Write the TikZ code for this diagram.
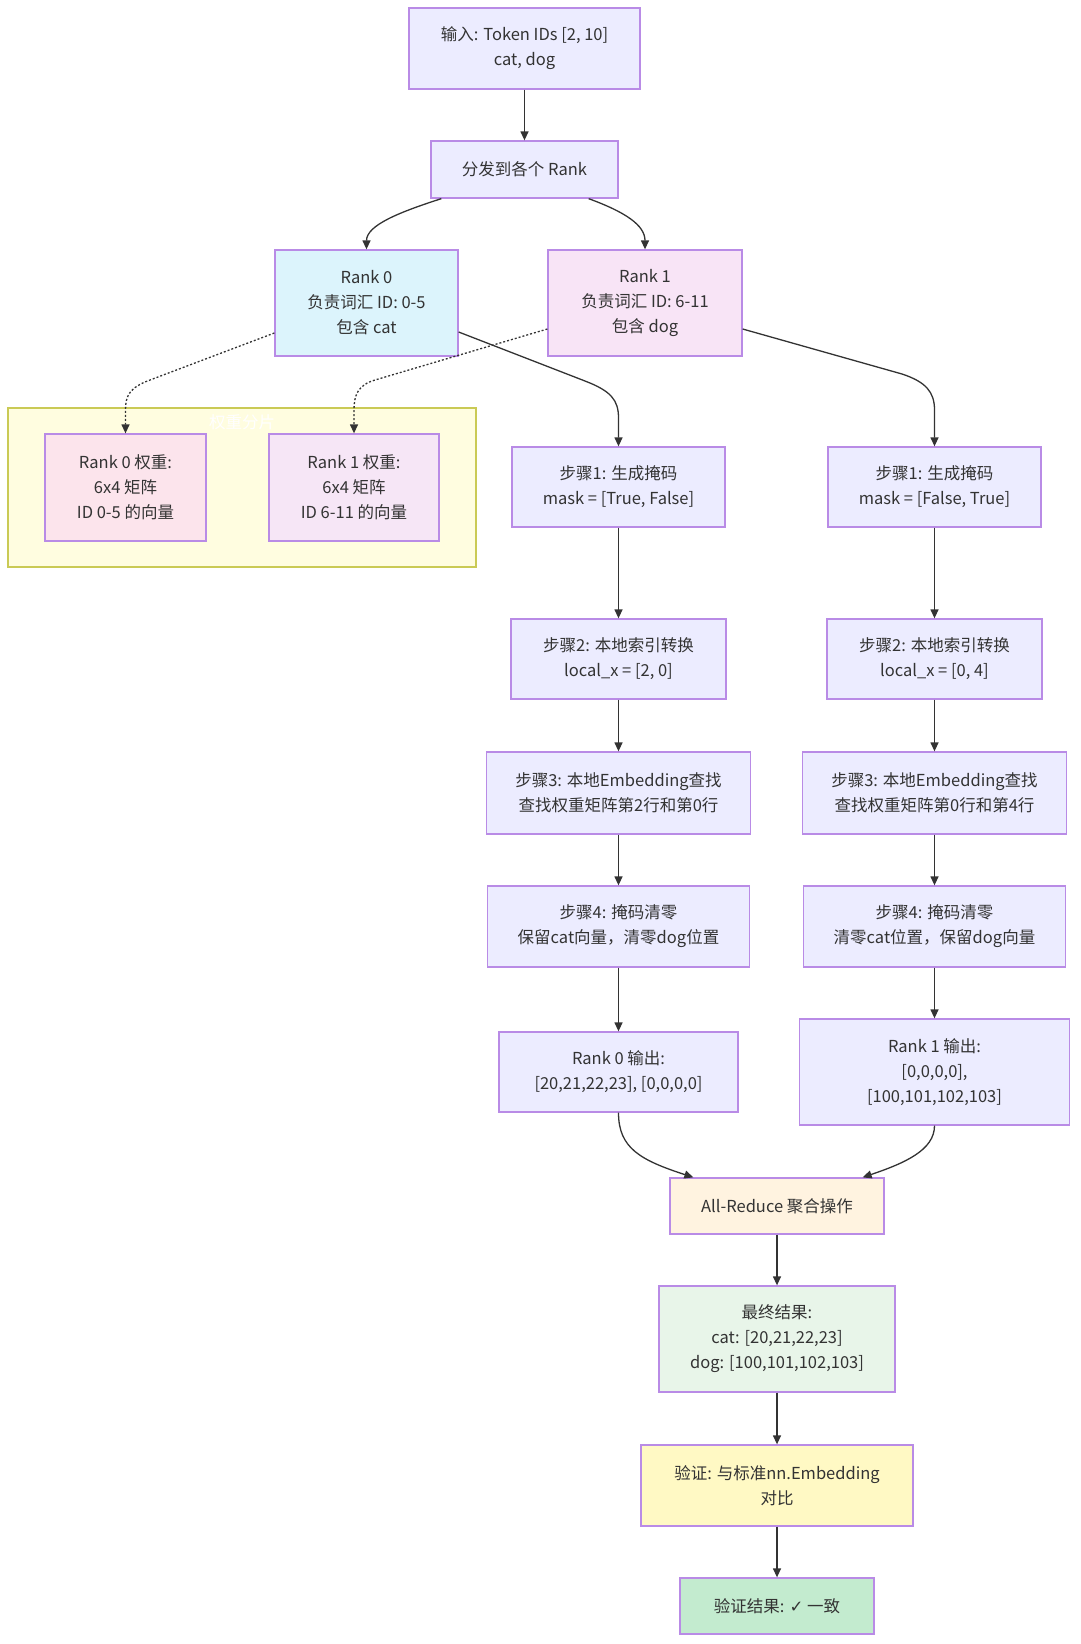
\documentclass[tikz,border=0pt]{standalone}
\usepackage{fontspec}
\setmainfont{Noto Sans CJK SC}
\newfontfamily\dejavu{DejaVu Sans}
\usetikzlibrary{arrows.meta,calc}
\definecolor{nodeline}{HTML}{B98BE6}
\definecolor{defbg}{HTML}{ECECFF}
\definecolor{textc}{HTML}{333333}
\definecolor{edgec}{HTML}{333333}
\definecolor{rzero}{HTML}{DCF4FC}
\definecolor{rone}{HTML}{F8E4F6}
\definecolor{wzero}{HTML}{FCE4EC}
\definecolor{wone}{HTML}{F6E6F6}
\definecolor{groupbg}{HTML}{FFFDE0}
\definecolor{groupline}{HTML}{CACA55}
\definecolor{arbg}{HTML}{FFF3E0}
\definecolor{finbg}{HTML}{E8F5E9}
\definecolor{verbg}{HTML}{FFF9C4}
\definecolor{resbg}{HTML}{C3EBCF}
\begin{document}
\begin{tikzpicture}[x=1pt,y=-1pt,
  box/.style={draw=nodeline, line width=1.3pt, fill=#1, align=center, inner sep=0pt,
    font=\fontsize{16.5}{25}\selectfont, text=textc},
  box/.default=defbg,
  edge/.style={draw=edgec, line width=1.3pt, -{Triangle[length=9pt,width=8pt]}},
  dotedge/.style={edge, dash pattern=on 2pt off 2pt}]
\useasboundingbox (0,0) rectangle (1080,1644);

% group
\node[draw=groupline, fill=groupbg, line width=1.3pt, minimum width=468pt, minimum height=159pt, inner sep=0pt] (grp) at (242,487.5) {};
\node[text=white, font=\fontsize{16.5}{25}\selectfont] (grplabel) at (242,422) {权重分片};

% nodes
\node[box, minimum width=231pt, minimum height=81pt] (in) at (524.5,48.5) {输入: Token IDs [2, 10]\\cat, dog};
\node[box, minimum width=187pt, minimum height=57pt] (dist) at (524.5,169.5) {分发到各个 Rank};
\node[box=rzero, minimum width=183pt, minimum height=106pt] (r0) at (366.5,303) {Rank 0\\负责词汇 ID: 0-5\\包含 cat};
\node[box=rone, minimum width=194pt, minimum height=106pt] (r1) at (645,303) {Rank 1\\负责词汇 ID: 6-11\\包含 dog};
\node[box=wzero, minimum width=161pt, minimum height=107pt] (w0) at (125.5,487.5) {Rank 0 权重:\\6x4 矩阵\\ID 0-5 的向量};
\node[box=wone, minimum width=170pt, minimum height=107pt] (w1) at (354,487.5) {Rank 1 权重:\\6x4 矩阵\\ID 6-11 的向量};

\node[box, minimum width=213pt, minimum height=80pt] (s1l) at (618.5,487) {步骤1: 生成掩码\\mask = [True, False]};
\node[box, minimum width=213pt, minimum height=80pt] (s1r) at (934.5,487) {步骤1: 生成掩码\\mask = [False, True]};
\node[box, minimum width=215pt, minimum height=80pt] (s2l) at (618.5,659) {步骤2: 本地索引转换\\local\_x = [2, 0]};
\node[box, minimum width=215pt, minimum height=80pt] (s2r) at (934.5,659) {步骤2: 本地索引转换\\local\_x = [0, 4]};
\node[box, minimum width=264pt, minimum height=82pt] (s3l) at (618.5,793) {步骤3: 本地Embedding查找\\查找权重矩阵第2行和第0行};
\node[box, minimum width=264pt, minimum height=82pt] (s3r) at (934.5,793) {步骤3: 本地Embedding查找\\查找权重矩阵第0行和第4行};
\node[box, minimum width=262pt, minimum height=81pt] (s4l) at (618.5,926.5) {步骤4: 掩码清零\\保留cat向量，清零dog位置};
\node[box, minimum width=262pt, minimum height=81pt] (s4r) at (934.5,926.5) {步骤4: 掩码清零\\清零cat位置，保留dog向量};
\node[box, minimum width=239pt, minimum height=80pt] (o0) at (618.5,1072) {Rank 0 输出:\\{[}20,21,22,23], [0,0,0,0]};
\node[box, minimum width=270pt, minimum height=106pt] (o1) at (934.5,1072) {Rank 1 输出:\\{[}0,0,0,0],\\{[}100,101,102,103]};

\node[box=arbg, minimum width=214pt, minimum height=56pt] (ar) at (777,1206) {All-Reduce 聚合操作};
\node[box=finbg, minimum width=236pt, minimum height=106pt] (fin) at (777,1339) {最终结果:\\cat: [20,21,22,23]\\dog: [100,101,102,103]};
\node[box=verbg, minimum width=272pt, minimum height=81pt] (ver) at (777,1485.5) {验证: 与标准nn.Embedding\\对比};
\node[box=resbg, minimum width=194pt, minimum height=56pt] (res) at (777,1606) {验证结果: {\dejavu ✓} 一致};

% edges
\draw[edge] (in) -- (dist);
\draw[edge] ($(dist.south west)+(11,0)$) .. controls (400,212) and (366.5,225) .. (r0.north);
\draw[edge] ($(dist.south east)+(-30,0)$) .. controls (625,212) and (645,225) .. (r1.north);

\draw[edge] ($(r0.east)+(0,29)$) -- (585,381) .. controls (611,391) and (618.5,400) .. (618.5,418) -- (s1l.north);
\draw[edge] ($(r1.east)+(0,26)$) -- (902,374) .. controls (926,382) and (934.5,392) .. (934.5,410) -- (s1r.north);
\draw[dotedge] ($(r0.west)+(0,30)$) -- (150,380) .. controls (130,387.5) and (125.5,395) .. (125.5,410) -- (w0.north);
\draw[dotedge] ($(r1.west)+(0,26)$) -- (375,380) .. controls (358,385) and (354,395) .. (354,410) -- (w1.north);

\draw[edge] (s1l) -- (s2l);
\draw[edge] (s2l) -- (s3l);
\draw[edge] (s3l) -- (s4l);
\draw[edge] (s4l) -- (o0);
\draw[edge] (s1r) -- (s2r);
\draw[edge] (s2r) -- (s3r);
\draw[edge] (s3r) -- (s4r);
\draw[edge] (s4r) -- (o1);

\draw[edge] (o0.south) .. controls (618.5,1148) and (640,1160) .. ($(ar.north west)+(24,0)$);
\draw[edge] (o1.south) .. controls (934.5,1150) and (905,1163) .. ($(ar.north east)+(-22,0)$);

\draw[edge] (ar) -- (fin);
\draw[edge] (fin) -- (ver);
\draw[edge] (ver) -- (res);
\end{tikzpicture}
\end{document}
